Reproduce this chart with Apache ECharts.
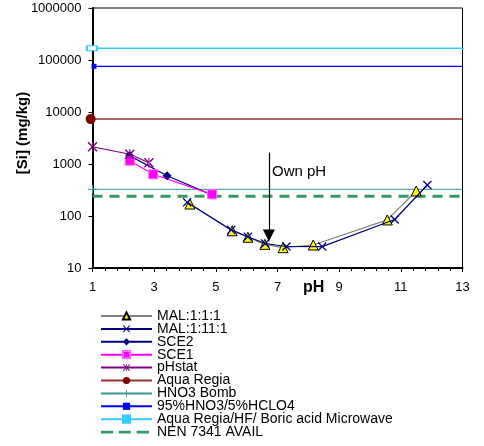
<!DOCTYPE html>
<html>
<head>
<meta charset="utf-8">
<script src="https://cdn.jsdelivr.net/npm/echarts@6/dist/echarts.min.js"></script>
<style>html,body{margin:0;padding:0;background:#fff}#c{width:484px;height:446px}</style>
</head>
<body>
<div id="c"></div>
<script>
// ---- data ----
const phMAL111  = [4.16, 5.53, 6.04, 6.59, 7.18, 8.16, 10.56, 11.5];
const siMAL111  = [170, 52, 39, 28.5, 24.6, 27.7, 84, 303];
const phMAL1111 = [4.07, 5.5, 6.04, 6.6, 7.29, 8.45, 10.8, 11.86];
const siMAL1111 = [183, 54, 40, 29.6, 25.9, 25.8, 85.6, 395];
const phSCE2 = [2.2, 3.42, 4.85];
const siSCE2 = [1450, 596, 258];
const phSCE1 = [2.21, 2.97, 4.88];
const siSCE1 = [1157, 634, 261];
const phStat = [1.0, 2.21, 2.83];
const siStat = [2150, 1540, 1060];
// reference levels (constant over pH)
const refNames  = ['Aqua Regia', 'HNO3 Bomb', '95%HNO3/5%HCLO4', 'Aqua Regia/HF/ Boric acid Microwave', 'NEN 7341 AVAIL'];
const refValues = [7300, 326, 75700, 168000, 239];
const refStartPH = [0.94, 1.0, 1.05, 0.98, 1.0];
const refEndPH   = [13, 13, 13, 13.25, 13];
// annotation
const ownPH = 6.72, ownTop = 1650, ownBottom = 42;
const xTicks = [1, 3, 5, 7, 9, 11, 13];
const yTicks = [10, 100, 1000, 10000, 100000, 1000000];

const FONT = 'Liberation Sans, Arial, sans-serif';
const zip = (a, b) => a.map((v, i) => [v, b[i]]);
const X_PATH = 'path://M0,1L1,0L5,4L9,0L10,1L6,5L10,9L9,10L5,6L1,10L0,9L4,5Z';
const STAR_PATH = 'path://M0,1L1,0L5,4L9,0L10,1L6,5L10,9L9,10L5,6L1,10L0,9L4,5Z M4.5,0L4.5,10L5.5,10L5.5,0Z';
const PLUS_PATH = 'path://M4.4,0L5.6,0L5.6,4.4L10,4.4L10,5.6L5.6,5.6L5.6,10L4.4,10L4.4,5.6L0,5.6L0,4.4L4.4,4.4Z';
const DASH_ICON = 'path://M0,0h0.01v0.01h-0.01z M51,9h-0.01v-0.01h0.01z M-2,3h12.5v3h-12.5z M16.5,3h12.5v3h-12.5z M35,3h13v3h-13z';

function refSeries(i, color, lineW, symbol, size, itemStyle, lineType) {
  return {
    name: refNames[i], type: 'line', clip: false,
    data: [
      {value: [refStartPH[i], refValues[i]], symbol: symbol, symbolSize: size},
      {value: [refEndPH[i], refValues[i]], symbol: 'none'}
    ],
    symbol: symbol, symbolSize: size,
    lineStyle: {color: color, width: lineW, type: lineType || 'solid'},
    itemStyle: itemStyle || {color: color},
    z: 2
  };
}

const chart = echarts.init(document.getElementById('c'), null, {renderer: 'canvas'});
chart.setOption({
  animation: false,
  textStyle: {fontFamily: FONT},
  grid: {left: 92.5, right: 21.5, top: 8, bottom: 178, show: true, borderColor: '#000', borderWidth: 1},
  xAxis: {
    type: 'value', min: 1, max: 13, interval: 2,
    axisLine: {lineStyle: {color: '#000', width: 2}},
    axisTick: {length: 4, lineStyle: {color: '#000', width: 1}},
    minorTick: {show: true, splitNumber: 5, length: 3, lineStyle: {color: '#000', width: 1}},
    splitLine: {show: false},
    axisLabel: {color: '#000', fontSize: 13, margin: 13, fontFamily: FONT}
  },
  yAxis: {
    type: 'log', logBase: 10, min: 10, max: 1000000,
    axisLine: {lineStyle: {color: '#000', width: 2}},
    axisTick: {length: 4, lineStyle: {color: '#000', width: 1}},
    splitLine: {show: false},
    axisLabel: {color: '#000', fontSize: 13, margin: 11, fontFamily: FONT,
      formatter: v => String(Math.round(v))}
  },
  legend: {
    orient: 'vertical', left: 100, top: 309, height: 200, padding: 0,
    itemWidth: 51, itemHeight: 9, itemGap: -1.1,
    textStyle: {fontSize: 14, lineHeight: 13, color: '#000', fontFamily: FONT},
    data: ['MAL:1:1:1', 'MAL:1:11:1', 'SCE2', 'SCE1', 'pHstat', refNames[0], refNames[1], refNames[2],
      {name: refNames[3], itemStyle: {color: '#33CCFF', borderColor: '#33CCFF'}},
      {name: refNames[4], icon: DASH_ICON, itemStyle: {color: '#339966'}}]
  },
  graphic: [
    {type: 'text', left: 272, top: 164, style: {text: 'Own pH', font: '15px ' + FONT, fill: '#000'}},
    {type: 'text', left: 303, top: 280, style: {text: 'pH', font: 'bold 16px ' + FONT, fill: '#000'}},
    {type: 'text', x: 23, y: 133, rotation: Math.PI / 2, style: {text: '[Si] (mg/kg)', font: 'bold 15px ' + FONT, fill: '#000', align: 'center', verticalAlign: 'middle'}}
  ],
  series: [
    {name: 'MAL:1:1:1', type: 'line', data: zip(phMAL111, siMAL111), symbol: 'triangle', symbolSize: 10,
      lineStyle: {color: '#808080', width: 1.2}, itemStyle: {color: '#FFFF00', borderColor: '#000', borderWidth: 1}, z: 3},
    {name: 'MAL:1:11:1', type: 'line', data: zip(phMAL1111, siMAL1111), symbol: X_PATH, symbolSize: 9,
      lineStyle: {color: '#000080', width: 1.2}, itemStyle: {color: '#000080'}, z: 4},
    {name: 'SCE2', type: 'line', data: zip(phSCE2, siSCE2), symbol: 'diamond', symbolSize: 9,
      lineStyle: {color: '#000080', width: 1.2}, itemStyle: {color: '#000080'}, z: 3},
    {name: 'SCE1', type: 'line', data: zip(phSCE1, siSCE1), symbol: 'rect', symbolSize: 9,
      lineStyle: {color: '#FF00FF', width: 1.2}, itemStyle: {color: '#FF00FF', borderColor: '#FF66FF', borderWidth: 1}, z: 3},
    {name: 'pHstat', type: 'line', data: zip(phStat, siStat), symbol: STAR_PATH, symbolSize: 10, clip: false,
      lineStyle: {color: '#800080', width: 1.2}, itemStyle: {color: '#800080'}, z: 3},
    refSeries(0, '#993333', 1.5, 'circle', 10, {color: '#800000'}),
    refSeries(1, '#339999', 1, PLUS_PATH, 9, {color: '#339999'}),
    refSeries(2, '#0000FF', 1.2, 'rect', 5, {color: '#0000FF'}),
    refSeries(3, '#33CCFF', 1.5, 'rect', [10, 5], {color: '#ffffff', borderColor: '#33CCFF', borderWidth: 1.5}),
    refSeries(4, '#339966', 3, 'none', 0, {color: '#339966'}, [10, 7]),
    {name: 'Own pH', type: 'line', data: [], silent: true,
      markLine: {
        silent: true, symbol: ['none', 'triangle'], symbolSize: 12,
        lineStyle: {color: '#000', width: 1.2, type: 'solid'}, label: {show: false},
        itemStyle: {color: '#000'},
        data: [[{coord: [ownPH, ownTop]}, {coord: [ownPH, ownBottom]}]]
      }}
  ]
});
</script>
</body>
</html>
